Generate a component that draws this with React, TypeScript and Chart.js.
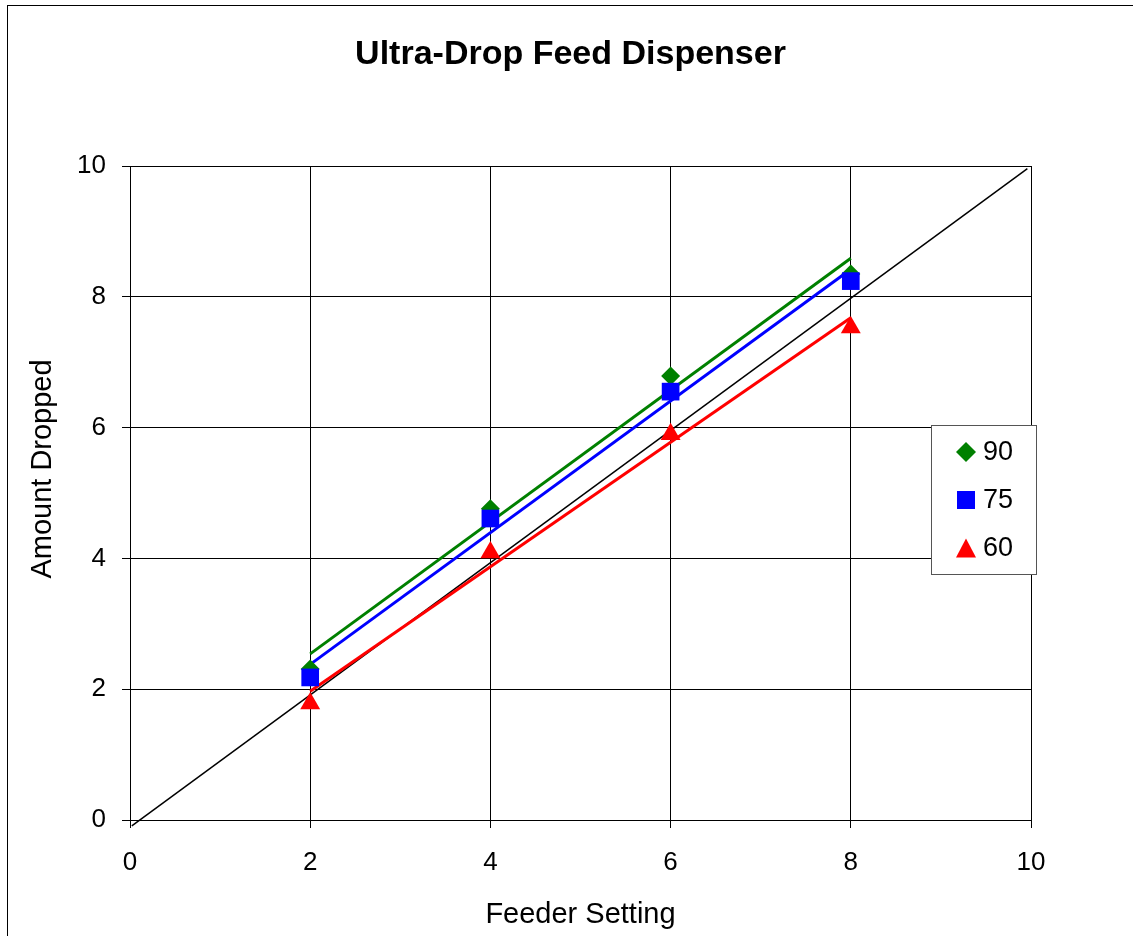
import React, { useEffect, useRef } from 'react';
import { Chart, registerables } from 'chart.js';

Chart.register(...registerables);

// ---- data ----
const feederSettings = [2, 4, 6, 8];
const dropped90 = [2.31, 4.76, 6.79, 8.35];
const dropped75 = [2.18, 4.61, 6.55, 8.24];
const dropped60 = [1.78, 4.09, 5.9, 7.53];
const trendX = [2, 8];
const trend90 = [2.54, 8.59];
const trend75 = [2.38, 8.42];
const trend60 = [1.97, 7.68];
const diagonalX = [0.02, 9.96];
const diagonalY = [-0.09, 9.96];
const xTickValues = [0, 2, 4, 6, 8, 10];
const yTickValues = [0, 2, 4, 6, 8, 10];
const legendLabels = ['90', '75', '60'];
const yAxisTitle = 'Amount Dropped';

const GREEN = '#008000';
const BLUE = '#0000FF';
const RED = '#FF0000';
const FONT = '"Liberation Sans", Arial, Helvetica, sans-serif';

const pts = (xs: number[], ys: number[]) => xs.map((x, i) => ({ x, y: ys[i] }));

const legendStyles: Record<string, { color: string; shape: string }> = {
  '90': { color: GREEN, shape: 'diamond' },
  '75': { color: BLUE, shape: 'square' },
  '60': { color: RED, shape: 'triangle' },
};

const yTitlePlugin = {
  id: 'yTitle',
  afterDraw(chart: any) {
    const { ctx, chartArea } = chart;
    ctx.save();
    ctx.translate(35, chartArea.top + 303);
    ctx.rotate(-Math.PI / 2);
    ctx.fillStyle = '#000000';
    ctx.font = `29px ${FONT}`;
    ctx.textAlign = 'center';
    ctx.textBaseline = 'middle';
    ctx.fillText(yAxisTitle, 0, 0);
    ctx.restore();
  },
};

const boxLegend = {
  id: 'boxLegend',
  afterDraw(chart: any) {
    const { ctx, chartArea } = chart;
    const left = chartArea.right - 100;
    const top = chartArea.top + 259;
    const w = 105;
    const h = 149;
    ctx.save();
    ctx.fillStyle = '#FFFFFF';
    ctx.fillRect(left, top, w, h);
    ctx.strokeStyle = '#555555';
    ctx.lineWidth = 1;
    ctx.strokeRect(left + 0.5, top + 0.5, w, h);
    const rows = [27, 75, 123];
    legendLabels.forEach((lab, i) => {
      const st = legendStyles[lab];
      const cx = left + 35;
      const cy = top + rows[i];
      ctx.fillStyle = st.color;
      ctx.beginPath();
      if (st.shape === 'diamond') {
        ctx.moveTo(cx - 10, cy);
        ctx.lineTo(cx, cy - 10);
        ctx.lineTo(cx + 10, cy);
        ctx.lineTo(cx, cy + 10);
        ctx.closePath();
      } else if (st.shape === 'square') {
        ctx.rect(cx - 9, cy - 9, 18, 18);
      } else {
        ctx.moveTo(cx, cy - 9.5);
        ctx.lineTo(cx + 10, cy + 9.5);
        ctx.lineTo(cx - 10, cy + 9.5);
        ctx.closePath();
      }
      ctx.fill();
      ctx.fillStyle = '#000000';
      ctx.font = `27px ${FONT}`;
      ctx.textAlign = 'left';
      ctx.textBaseline = 'middle';
      ctx.fillText(lab, left + 52, cy + 1);
    });
    ctx.restore();
  },
};

export default function App() {
  const ref = useRef<HTMLCanvasElement | null>(null);

  useEffect(() => {
    if (!ref.current) return;
    Chart.defaults.font.family = FONT;
    Chart.defaults.color = '#000000';

    const chart = new Chart(ref.current, {
      type: 'scatter',
      data: {
        datasets: [
          {
            label: '75',
            data: pts(feederSettings, dropped75),
            pointStyle: 'rect',
            pointRadius: 12.5,
            backgroundColor: BLUE,
            borderColor: BLUE,
            borderWidth: 0,
            order: 0,
          },
          {
            label: '60',
            data: pts(feederSettings, dropped60),
            pointStyle: 'triangle',
            pointRadius: 11.5,
            backgroundColor: RED,
            borderColor: RED,
            borderWidth: 0,
            order: 1,
          },
          {
            label: '90',
            data: pts(feederSettings, dropped90),
            pointStyle: 'rectRot',
            pointRadius: 9.5,
            backgroundColor: GREEN,
            borderColor: GREEN,
            borderWidth: 0,
            order: 2,
          },
          {
            label: 'trend 90',
            data: pts(trendX, trend90),
            showLine: true,
            pointRadius: 0,
            borderColor: GREEN,
            borderWidth: 3,
            order: 3,
          },
          {
            label: 'trend 75',
            data: pts(trendX, trend75),
            showLine: true,
            pointRadius: 0,
            borderColor: BLUE,
            borderWidth: 3,
            order: 4,
          },
          {
            label: 'trend 60',
            data: pts(trendX, trend60),
            showLine: true,
            pointRadius: 0,
            borderColor: RED,
            borderWidth: 3,
            order: 5,
          },
          {
            label: 'diagonal',
            data: pts(diagonalX, diagonalY),
            showLine: true,
            pointRadius: 0,
            borderColor: '#000000',
            borderWidth: 1.5,
            clip: false as any,
            order: 6,
          },
        ],
      },
      options: {
        responsive: false,
        animation: false,
        devicePixelRatio: 1,
        layout: { padding: 0 },
        plugins: {
          legend: { display: false },
          tooltip: { enabled: false },
          title: {
            display: true,
            text: 'Ultra-Drop Feed Dispenser',
            color: '#000000',
            font: { size: 34, weight: 'bold', family: FONT },
            padding: { top: 28, bottom: 91.2 },
          },
        },
        scales: {
          x: {
            type: 'linear',
            position: 'bottom',
            min: 0,
            max: 10,
            afterBuildTicks: (s: any) => {
              s.ticks = xTickValues.map((v) => ({ value: v }));
            },
            afterFit: (s: any) => {
              s.height = 116;
            },
            ticks: {
              color: '#000000',
              font: { size: 26, family: FONT },
              padding: 19,
              maxRotation: 0,
            },
            grid: {
              color: '#000000',
              lineWidth: 1,
              drawTicks: true,
              tickLength: 8,
              tickColor: '#000000',
            },
            border: { display: true, color: '#000000', width: 1 },
            title: {
              display: true,
              text: 'Feeder Setting',
              color: '#000000',
              font: { size: 29, family: FONT },
              padding: { top: 0, bottom: 4 },
            },
          },
          y: {
            type: 'linear',
            position: 'left',
            min: 0,
            max: 10,
            afterBuildTicks: (s: any) => {
              s.ticks = yTickValues.map((v) => ({ value: v }));
            },
            afterFit: (s: any) => {
              s.width = 122;
            },
            ticks: {
              color: '#000000',
              font: { size: 26, family: FONT },
              padding: 16,
            },
            grid: {
              color: '#000000',
              lineWidth: 1,
              drawTicks: true,
              tickLength: 8,
              tickColor: '#000000',
            },
            border: { display: true, color: '#000000', width: 1 },
            title: { display: false },
          },
          spacer: {
            type: 'linear',
            position: 'right',
            min: 0,
            max: 10,
            display: true,
            afterFit: (s: any) => {
              s.width = 102;
            },
            ticks: { display: false },
            grid: { display: false, drawTicks: false },
            border: { display: false },
            title: { display: false },
          },
        },
      } as any,
      plugins: [boxLegend, yTitlePlugin],
    });

    return () => chart.destroy();
  }, []);

  return (
    <div
      style={{
        position: 'absolute',
        left: 7,
        top: 5,
        width: 1125,
        height: 930,
        borderLeft: '1px solid #000000',
        borderTop: '1px solid #000000',
        overflow: 'hidden',
        background: '#FFFFFF',
      }}
    >
      <canvas ref={ref} width={1125} height={930} style={{ display: 'block', width: 1125, height: 930 }} />
    </div>
  );
}
